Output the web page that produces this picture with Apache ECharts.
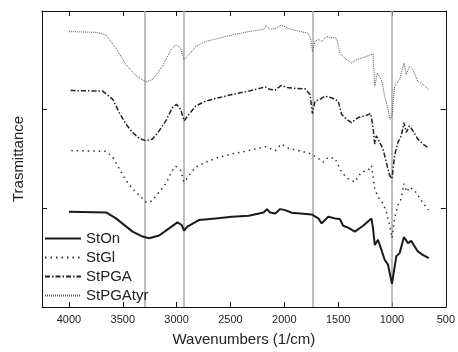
<!DOCTYPE html>
<html>
<head>
<meta charset="utf-8">
<script src="https://cdn.jsdelivr.net/npm/echarts@6/dist/echarts.min.js"></script>
<style>html,body{margin:0;padding:0;background:#fff;}#c{width:458px;height:352px;}</style>
</head>
<body>
<div id="c"></div>
<script>
// Series data: [wavenumber (1/cm), transmittance (offset, arbitrary units)]
var seriesNames = ['StOn', 'StGl', 'StPGA', 'StPGAtyr'];
var xTicks = [500, 1000, 1500, 2000, 2500, 3000, 3500, 4000];
var markerLines = [3300, 2930, 1740, 1000];

var stOn = [[4000,96.5],[3655,95.8],[3563,89.8],[3409,76.4],[3316,71.4],[3255,69.7],[3162,72.4],[3070,79.7],[2993,85.8],[2953,83.1],[2931,77.4],[2900,81.4],[2793,88.1],[2639,89.8],[2485,91.5],[2331,92.5],[2192,95.8],[2161,99.2],[2131,95.8],[2084,94.8],[2038,99.2],[1992,98.2],[1930,95.5],[1746,93.8],[1684,89.8],[1653,84.8],[1592,91.5],[1530,89.8],[1484,89.1],[1453,82.4],[1407,80.4],[1345,76.4],[1268,82.4],[1191,89.8],[1176,79.7],[1160,63.0],[1130,68.0],[1093,56.3],[1068,47.9],[1037,42.9],[1000,23.5],[960,51.3],[929,54.6],[889,71.0],[852,64.7],[822,67.0],[760,56.3],[714,52.9],[658,49.6]];

var stGl = [[3978,158.5],[3655,157.8],[3593,151.8],[3532,140.0],[3470,128.3],[3409,119.9],[3347,113.2],[3285,106.5],[3255,105.9],[3224,108.2],[3162,116.6],[3101,124.9],[3039,138.4],[3008,142.7],[2962,138.4],[2931,126.6],[2885,133.3],[2823,141.7],[2731,146.7],[2608,151.8],[2485,155.1],[2331,158.5],[2177,162.5],[2084,158.5],[2029,165.2],[1961,160.8],[1776,156.1],[1699,151.8],[1638,146.7],[1592,151.8],[1530,150.8],[1468,136.7],[1407,130.0],[1345,126.6],[1284,136.7],[1222,138.4],[1191,143.4],[1160,119.9],[1130,111.6],[1083,104.9],[1053,96.5],[1022,83.1],[1000,69.7],[976,89.8],[945,103.2],[914,109.9],[889,124.9],[862,116.6],[837,121.6],[791,118.3],[729,108.2],[661,98.2]];

var stPGA = [[3985,219.4],[3686,218.8],[3593,210.4],[3532,197.0],[3470,185.3],[3409,176.9],[3347,170.9],[3285,168.5],[3224,170.2],[3162,178.6],[3101,188.6],[3039,202.0],[3002,205.4],[2962,200.3],[2931,188.6],[2885,195.3],[2823,203.7],[2731,208.7],[2608,212.1],[2485,215.4],[2331,218.8],[2177,223.1],[2131,220.4],[2084,219.8],[2029,224.5],[1961,222.1],[1807,221.1],[1761,215.4],[1739,196.0],[1715,208.7],[1669,210.4],[1622,213.7],[1561,212.1],[1499,208.7],[1468,195.3],[1422,190.3],[1376,186.9],[1314,192.0],[1253,193.6],[1197,196.0],[1176,181.9],[1160,165.2],[1145,173.5],[1114,166.8],[1083,160.1],[1053,146.7],[1022,133.3],[1000,130.0],[976,153.4],[945,166.8],[914,173.5],[889,186.9],[868,176.9],[837,183.6],[806,178.6],[760,170.2],[714,165.2],[658,161.1]];

var stPGAtyr = [[4000,279.1],[3747,278.4],[3655,275.7],[3563,262.3],[3470,245.6],[3378,234.5],[3285,228.1],[3224,230.5],[3131,243.9],[3054,260.6],[3008,265.7],[2962,262.3],[2931,250.6],[2885,255.6],[2823,264.0],[2731,269.0],[2608,272.4],[2485,275.7],[2331,279.1],[2192,281.4],[2167,285.1],[2131,281.4],[2084,282.1],[2029,285.8],[1961,282.4],[1869,279.7],[1776,277.4],[1752,270.7],[1739,259.0],[1715,269.0],[1684,271.4],[1653,269.0],[1607,274.0],[1514,272.4],[1484,257.3],[1438,252.3],[1376,247.2],[1330,250.6],[1284,252.3],[1222,254.6],[1176,256.6],[1160,223.8],[1136,237.2],[1093,228.8],[1068,213.7],[1037,200.3],[1019,190.3],[1000,193.6],[976,223.8],[929,230.5],[889,247.2],[868,235.5],[837,243.9],[806,240.5],[760,228.8],[714,225.5],[658,220.4]];

var chart = echarts.init(document.getElementById('c'), null, {renderer: 'canvas'});
var font = 'Liberation Sans, Arial, sans-serif';
var axisLine = {show: true, onZero: false, lineStyle: {color: '#111', width: 1}};

function mkSeries(name, data, color, width, type) {
  return {
    name: name, type: 'line', data: data, symbol: 'none', smooth: false,
    lineStyle: {color: color, width: width, type: type},
    itemStyle: {color: color},
    z: 3
  };
}

var series = [
  mkSeries(seriesNames[0], stOn, '#1a1a1a', 2, 'solid'),
  mkSeries(seriesNames[1], stGl, '#333', 1.5, [1.5, 4]),
  mkSeries(seriesNames[2], stPGA, '#222', 1.5, [5, 2, 1.5, 2]),
  mkSeries(seriesNames[3], stPGAtyr, '#555', 1, [1, 1])
];
series[0].markLine = {
  silent: true, symbol: 'none', label: {show: false},
  lineStyle: {color: '#a8a8a8', width: 1.5, type: 'solid'},
  data: markerLines.map(function (v) { return {xAxis: v}; }),
  z: 1
};

chart.setOption({
  backgroundColor: '#fff',
  animation: false,
  grid: {left: 42, right: 10, top: 11, bottom: 43},
  legend: {
    data: seriesNames, orient: 'vertical', left: 39, top: 226,
    itemWidth: 36, itemHeight: 12, itemGap: 4,
    itemStyle: {opacity: 0},
    textStyle: {fontFamily: font, fontSize: 15, lineHeight: 15, color: '#222'}
  },
  xAxis: [{
    type: 'value', min: 500, max: 4250, interval: 500, inverse: true,
    name: 'Wavenumbers (1/cm)', nameLocation: 'middle', nameGap: 25,
    nameTextStyle: {fontFamily: font, fontSize: 15, color: '#222'},
    axisLine: axisLine,
    axisTick: {show: true, inside: true, length: 5, lineStyle: {color: '#111'}},
    axisLabel: {fontFamily: font, fontSize: 11, color: '#222', margin: 7,
      formatter: function (v) { return xTicks.indexOf(v) >= 0 ? String(v) : ''; }},
    splitLine: {show: false}
  }, {
    type: 'value', min: 500, max: 4250, interval: 500, inverse: true, position: 'top',
    axisLine: axisLine,
    axisTick: {show: true, inside: true, length: 5, lineStyle: {color: '#111'}},
    axisLabel: {show: false}, splitLine: {show: false}
  }],
  yAxis: [{
    type: 'value', min: 0, max: 300, interval: 100,
    name: 'Trasmittance', nameLocation: 'middle', nameGap: 16,
    nameTextStyle: {fontFamily: font, fontSize: 15, color: '#222'},
    axisLine: axisLine,
    axisTick: {show: true, inside: true, length: 5, lineStyle: {color: '#111'}},
    axisLabel: {show: false}, splitLine: {show: false}
  }, {
    type: 'value', min: 0, max: 300, interval: 100, position: 'right',
    axisLine: axisLine,
    axisTick: {show: true, inside: true, length: 5, lineStyle: {color: '#111'}},
    axisLabel: {show: false}, splitLine: {show: false}
  }],
  series: series
});
</script>
</body>
</html>
